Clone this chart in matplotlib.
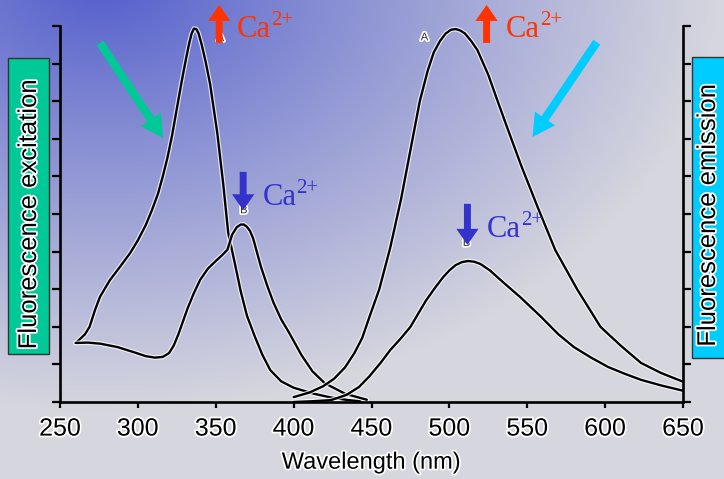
import numpy as np
import matplotlib
matplotlib.use("Agg")
import matplotlib.pyplot as plt
import matplotlib.patheffects as pe
from matplotlib.patches import Rectangle

plt.rcParams['font.family'] = ['Liberation Sans', 'DejaVu Sans']

# excitation spectra
exc_wl_hi = [260, 263, 266, 269, 272.5, 275.7, 282, 288.6, 295, 300, 305, 309, 313, 316, 319,
             322, 325, 328, 331, 333, 334.5, 336, 337.5, 339, 341, 343.5, 346.4, 351, 354.8,
             358, 362.5, 366, 370, 375, 380, 385, 392, 400, 413, 424, 435, 443]
exc_hi = [1.57, 1.68, 1.8, 2.0, 2.45, 2.8, 3.24, 3.6, 3.96, 4.3, 4.7, 5.1, 5.55, 6.0, 6.5,
          7.1, 7.8, 8.5, 9.15, 9.55, 9.8, 9.93, 9.92, 9.8, 9.5, 9.05, 8.45, 7.15, 5.8,
          4.5, 3.64, 2.95, 2.3, 1.75, 1.25, 0.85, 0.55, 0.38, 0.22, 0.12, 0.05, 0.02]

exc_wl_lo = [260, 268, 276, 287, 297, 305, 311, 316, 320, 323, 326, 329, 332, 336, 340, 345,
             350, 354, 357.5, 360.5, 363.5, 366, 368, 370, 372, 374, 376, 379, 383, 387, 392,
             397, 405, 412, 420, 433, 447]
exc_lo = [1.57, 1.58, 1.55, 1.46, 1.33, 1.22, 1.18, 1.2, 1.3, 1.5, 1.8, 2.15, 2.5, 2.9, 3.25, 3.55,
          3.75, 3.9, 4.05, 4.45, 4.65, 4.72, 4.72, 4.66, 4.55, 4.35, 4.05, 3.6, 3.1, 2.65, 2.2,
          1.85, 1.25, 0.82, 0.5, 0.22, 0.06]

# emission spectra
em_wl_hi = [400, 410, 419, 426, 433, 439, 444, 449, 455, 462, 469, 475, 481, 486, 490, 494,
            497.6, 501, 504, 507, 510, 514, 518, 525, 531, 538, 546, 557, 568, 582, 597, 610,
            623, 636, 650]
em_hi = [0.13, 0.25, 0.42, 0.62, 0.92, 1.3, 1.7, 2.3, 3.0, 4.1, 5.4, 6.7, 8.0, 8.8, 9.3, 9.6,
         9.8, 9.9, 9.92, 9.88, 9.8, 9.6, 9.36, 8.7, 8.0, 7.2, 6.3, 5.15, 4.04, 3.0, 2.0, 1.5,
         1.04, 0.77, 0.54]

em_wl_lo = [400, 412, 424, 434, 442, 449, 456, 462, 469, 475, 485, 491, 496, 500, 504, 508,
            512, 516, 520, 526, 533, 546, 559, 570, 580, 591, 602, 612, 623, 636, 650]
em_lo = [0.0, 0.02, 0.05, 0.19, 0.4, 0.7, 1.05, 1.38, 1.7, 2.0, 2.7, 3.05, 3.32, 3.5, 3.64, 3.72,
         3.75, 3.73, 3.67, 3.5, 3.24, 2.77, 2.26, 1.8, 1.46, 1.18, 0.93, 0.76, 0.59, 0.44, 0.3]

x_ticks = [250, 300, 350, 400, 450, 500, 550, 600, 650]

W, H = 724, 479
fig = plt.figure(figsize=(W / 100, H / 100), dpi=100)

# background gradient
bg = fig.add_axes([0, 0, 1, 1], zorder=0)
yy, xx = np.mgrid[0:H, 0:W]
t = np.sqrt(((xx - 100) / 620.0) ** 2 + ((yy + 20) / 430.0) ** 2)
t = np.clip(t, 0, 1) ** 0.9
c0 = np.array([80, 92, 204]) / 255.0
c1 = np.array([214, 214, 222]) / 255.0
img = c0[None, None, :] * (1 - t[..., None]) + c1[None, None, :] * t[..., None]
bg.imshow(img, extent=[0, W, H, 0], aspect='auto')
bg.set_xlim(0, W)
bg.set_ylim(H, 0)
bg.axis('off')

halo = [pe.withStroke(linewidth=2.5, foreground='white')]

# side boxes
bg.add_patch(Rectangle((8, 58), 41, 296, facecolor='#00C896', edgecolor='#333333', lw=1))
bg.text(29, 214, 'Fluorescence excitation', rotation=90, ha='center', va='center',
        fontsize=18.5, color='black', path_effects=halo)
bg.add_patch(Rectangle((692, 57), 40, 301, facecolor='#00CCFF', edgecolor='#333333', lw=1))
bg.text(708, 215, 'Fluorescence emission', rotation=90, ha='center', va='center',
        fontsize=18.5, color='black', path_effects=halo)

# main axes
ax = fig.add_axes([60 / W, (H - 402) / H, (683 - 60) / W, (402 - 26) / H], zorder=1)
ax.patch.set_visible(False)
line_fx = [pe.Stroke(linewidth=3.4, foreground='white', alpha=0.75), pe.Normal()]
for xs, ys in [(exc_wl_hi, exc_hi), (exc_wl_lo, exc_lo), (em_wl_hi, em_hi), (em_wl_lo, em_lo)]:
    ax.plot(xs, ys, color='black', lw=1.7, path_effects=line_fx,
            solid_joinstyle='round', solid_capstyle='round')

ax.set_xlim(250, 650)
ax.set_ylim(0, 10)
ax.set_xticks(x_ticks)
ax.set_yticks(range(11))
ax.spines['top'].set_visible(False)
for s in ['left', 'right', 'bottom']:
    ax.spines[s].set_linewidth(1.9)
ax.tick_params(axis='y', left=True, right=True, labelleft=False, direction='out',
               length=5.5, width=1.6)
ax.tick_params(axis='x', direction='out', length=4.5, width=1.6, labelsize=18, pad=6)
for lb in ax.get_xticklabels():
    lb.set_path_effects(halo)
ax.set_xlabel('Wavelength (nm)', fontsize=17, labelpad=8, path_effects=halo)

# small curve letters
small = dict(fontsize=8, color='#333333', ha='center', va='center', path_effects=halo)
ax.text(484, 9.7, 'A', **small)
ax.text(353, 9.68, 'A', **small)
ax.text(368, 5.1, 'B', **small)
ax.text(511, 4.23, 'B', **small)

red = '#FF3300'
blue = '#3333CC'
def arrow(x0, y0, x1, y1, color, hw, hl, tw):
    ax.annotate('', xy=(x1, y1), xytext=(x0, y0), annotation_clip=False,
                arrowprops=dict(arrowstyle='simple,head_width=%g,head_length=%g,tail_width=%g'
                                % (hw, hl, tw), color=color, shrinkA=0, shrinkB=0,
                                mutation_scale=10, lw=0))

def ca_label(x, y, color):
    ax.text(x, y, 'Ca', color=color, fontsize=22, family='Liberation Serif', va='baseline')
    ax.annotate('2+', xy=(x, y), xytext=(24.5, 8.5), textcoords='offset points',
                color=color, fontsize=15, family='Liberation Serif', va='baseline',
                annotation_clip=False)

# big pointer arrows
arrow(275.7, 9.55, 316.2, 7.02, '#00C896', 1.75, 1.6, 0.6)
arrow(594.6, 9.57, 553.4, 7.05, '#00CCFF', 1.75, 1.6, 0.6)

# Ca2+ arrows
arrow(352.2, 9.55, 352.2, 10.56, red, 1.6, 1.15, 0.5)
arrow(523.9, 9.55, 523.9, 10.56, red, 1.6, 1.15, 0.5)
arrow(367.6, 6.12, 367.6, 5.1, blue, 1.6, 1.15, 0.5)
arrow(511.6, 5.27, 511.6, 4.18, blue, 1.6, 1.15, 0.5)

ca_label(363.8, 9.7, red)
ca_label(536.1, 9.7, red)
ca_label(379.9, 5.24, blue)
ca_label(523.9, 4.39, blue)

fig.savefig('out.png', dpi=100)
